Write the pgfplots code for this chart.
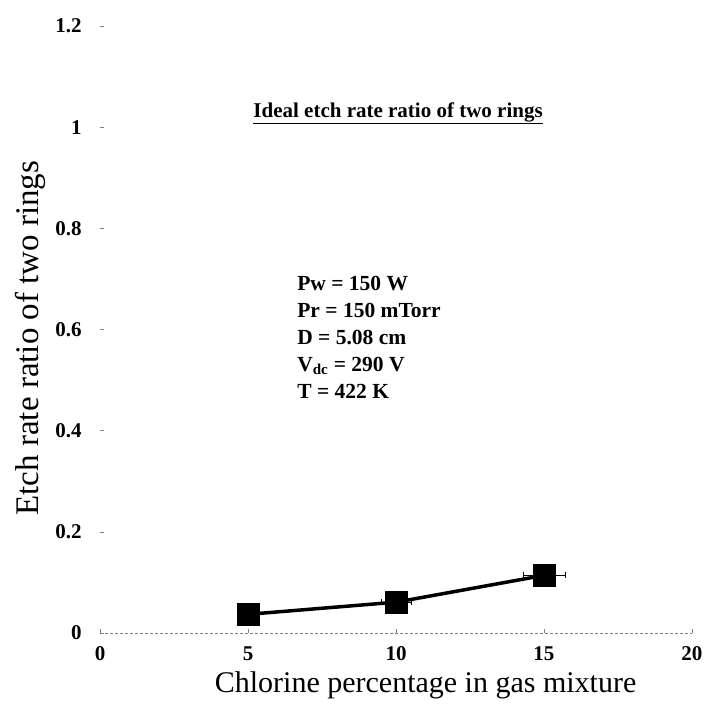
\documentclass[border=0pt]{standalone}
\usepackage{pgfplots}
\pgfplotsset{compat=1.18}
\usepackage{fontspec}
\setmainfont{Liberation Serif}
\begin{document}
\begin{tikzpicture}
\begin{axis}[
  scale only axis,
  width=592pt, height=607pt,
  xmin=0, xmax=20, ymin=0, ymax=1.2,
  axis lines*=left,
  x axis line style={densely dashed, gray, line width=0.6pt},
  y axis line style={draw=none},
  xtick={0,5,10,15,20},
  ytick={0,0.2,0.4,0.6,0.8,1,1.2},
  yticklabels={0,0.2,0.4,0.6,0.8,1,1.2},
  tick align=inside,
  major tick length=4pt,
  tick style={gray, line width=0.6pt},
  /pgf/number format/assume math mode=true,
  tick label style={font=\bfseries\fontsize{21}{21}\selectfont},
  yticklabel style={anchor=east, xshift=-15pt},
  xticklabel style={anchor=north, yshift=-10pt},
  xlabel={Chlorine percentage in gas mixture},
  ylabel={Etch rate ratio of two rings},
  xlabel style={font=\fontsize{30}{32}\selectfont, at={(axis description cs:0.55,-0.086)}, anchor=center},
  ylabel style={font=\fontsize{33}{35}\selectfont, at={(axis description cs:-0.117,0.486)}, anchor=center, rotate=0},
  clip=false,
]
\addplot[black, line width=3.5pt, mark=square*, mark size=11pt,
  mark options={solid, line width=0.5pt},
  error bars/.cd, x dir=both, x explicit, y dir=both, y explicit,
  error bar style={line width=1.2pt}, error mark options={rotate=90, mark size=3pt}]
  coordinates {
  (5,0.037) +- (0,0)
  (10,0.061) +- (0.5,0.005)
  (15,0.114) +- (0.7,0.008)
  };
\node[font=\bfseries\fontsize{21}{23}\selectfont] at (axis cs:10.07,1.028) {\underline{Ideal etch rate ratio of two rings}};
\node[anchor=north west, align=left, font=\bfseries\fontsize{21.5}{27}\selectfont, inner sep=0pt] at (axis cs:6.66,0.706)
 {Pw = 150 W\\ Pr = 150 mTorr\\ D = 5.08 cm\\ V\textsubscript{dc} = 290 V\\ T = 422 K};
\coordinate (bl) at (axis description cs:-0.169,-0.117);
\coordinate (tr) at (axis description cs:1.022,1.043);
\end{axis}
\pgfresetboundingbox
\path (bl) rectangle (tr);
\end{tikzpicture}
\end{document}
